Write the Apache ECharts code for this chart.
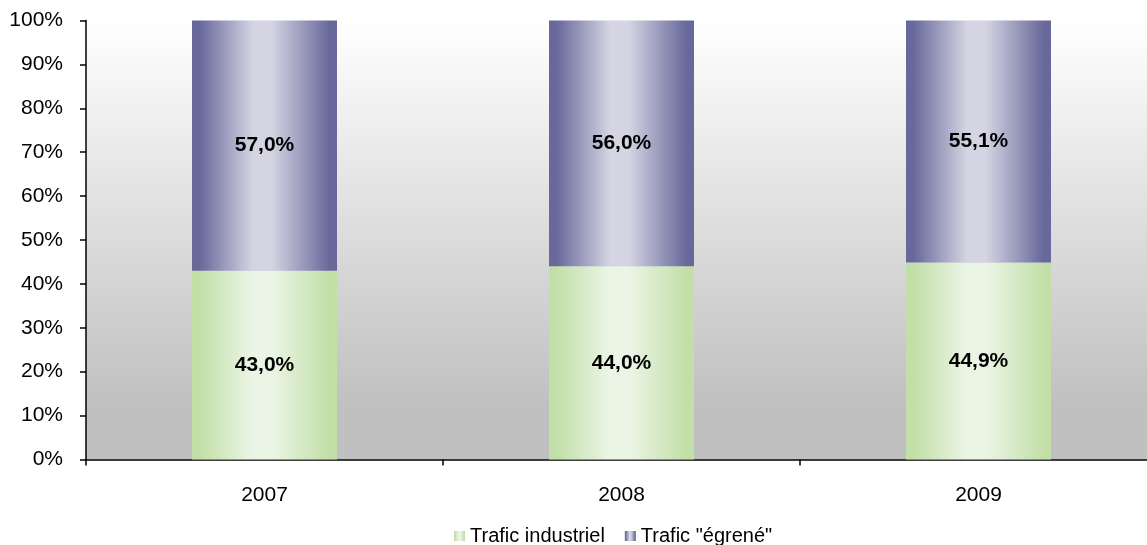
<!DOCTYPE html>
<html><head><meta charset="utf-8">
<script src="https://cdn.jsdelivr.net/npm/echarts@6/dist/echarts.min.js"></script>
<style>html,body{margin:0;padding:0;background:#fff}#c{width:1147px;height:545px}</style>
</head><body><div id="c"></div>
<script>
const categories = ['2007', '2008', '2009'];
const industriel = [43.0, 44.0, 44.9];
const egrene = [57.0, 56.0, 55.1];
const seriesNames = ['Trafic industriel', 'Trafic "égrené"'];

function hGrad(edge, mid) {
  return new echarts.graphic.LinearGradient(0, 0, 1, 0, [
    {offset: 0, color: edge}, {offset: 0.05, color: edge},
    {offset: 0.42, color: mid}, {offset: 0.55, color: mid},
    {offset: 0.95, color: edge}, {offset: 1, color: edge}
  ]);
}
const fmt = p => p.value.toFixed(1).replace('.', ',') + '%';
const font = 'Liberation Sans, Arial, sans-serif';
const chart = echarts.init(document.getElementById('c'), null, {renderer: 'canvas'});
chart.setOption({
  animation: false,
  textStyle: {fontFamily: font},
  grid: {left: 86, top: 20.5, width: 1071, height: 439, show: true, borderWidth: 0,
    outerBoundsMode: 'none', containLabel: false,
    backgroundColor: new echarts.graphic.LinearGradient(0, 0, 0, 1, [
      {offset: 0, color: '#ffffff'}, {offset: 0.88, color: '#c0c0c0'}, {offset: 1, color: '#c0c0c0'}])},
  legend: {left: 454, top: 526, padding: 0, itemWidth: 11, itemHeight: 10, itemGap: 20, icon: 'rect',
    textStyle: {fontFamily: font, fontSize: 20, color: '#000'},
    data: seriesNames},
  xAxis: {type: 'category', data: categories,
    axisLine: {lineStyle: {color: '#000', width: 1.5}},
    axisTick: {show: true, length: 6, lineStyle: {color: '#000', width: 1.5}, alignWithLabel: false},
    axisLabel: {color: '#000', fontSize: 21, fontFamily: font, margin: 25}},
  yAxis: {type: 'value', min: 0, max: 100, interval: 10,
    axisLine: {show: true, lineStyle: {color: '#000', width: 1.5}},
    axisTick: {show: true, length: 6, lineStyle: {color: '#000', width: 1.5}},
    splitLine: {show: false},
    axisLabel: {color: '#000', fontSize: 21, fontFamily: font, margin: 23, formatter: '{value}%'}},
  series: [
    {name: seriesNames[0], type: 'bar', stack: 's', barWidth: 145, data: industriel,
      itemStyle: {color: hGrad('#c2dfa8', '#ebf5e5')},
      label: {show: true, position: 'inside', formatter: fmt, color: '#000', fontWeight: 'bold', fontSize: 21, fontFamily: font}},
    {name: seriesNames[1], type: 'bar', stack: 's', barWidth: 145, data: egrene,
      itemStyle: {color: hGrad('#68689b', '#d4d4e3')},
      label: {show: true, position: 'inside', formatter: fmt, color: '#000', fontWeight: 'bold', fontSize: 21, fontFamily: font}}
  ]
});
</script></body></html>
